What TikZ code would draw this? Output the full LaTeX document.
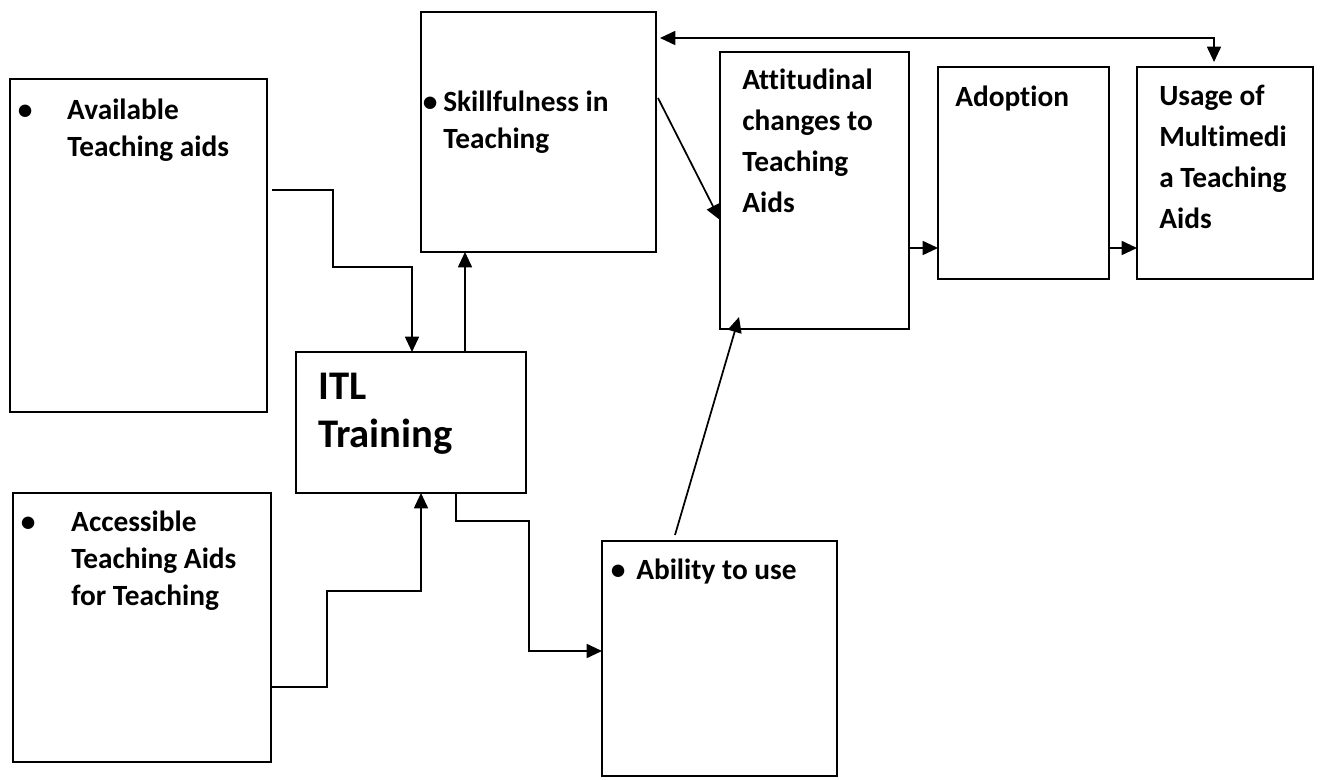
\documentclass[tikz,border=0pt]{standalone}
\usepackage{fontspec}
\setmainfont{Carlito}[Ligatures=NoCommon]
\usetikzlibrary{arrows.meta,fit}
\begin{document}
\begin{tikzpicture}[x=0.75pt,y=-0.75pt,
  box/.style={draw, line width=1.4pt, rectangle, inner sep=0pt, outer sep=0pt},
  % multi-line texts are placed by the baseline of their last line
  txt/.style={inner sep=0pt, anchor=base west, align=left,
    font=\bfseries\fontsize{22}{27.75}\selectfont},
  wide/.style={font=\bfseries\fontsize{22}{30.75}\selectfont},
  big/.style={font=\bfseries\fontsize{30.5}{36}\selectfont},
  link/.style={line width=1.3pt},
  tip/.tip={Triangle[length=11.5pt,width=10.5pt]},
  arr/.style={link, -tip},
]
\useasboundingbox (0,0) rectangle (1322,780);

% boxes
\node[box, fit={(10,79) (267,412)}]    (avail)   {};
\node[box, fit={(13,493) (271,762)}]   (access)  {};
\node[box, fit={(296,352) (526,493)}]  (itl)     {};
\node[box, fit={(421,12) (656,252)}]   (skill)   {};
\node[box, fit={(602,541) (837,776)}]  (ability) {};
\node[box, fit={(720,52) (909,329)}]   (attit)   {};
\node[box, fit={(938,67) (1109,279)}]  (adopt)   {};
\node[box, fit={(1137,67) (1313,279)}] (usage)   {};

% box texts
\node[txt] (availT) at (67,157) {\llap{\makebox[63pt]{\textbullet}}Available\\Teaching aids};
\node[txt] (accessT) at (71,605) {\llap{\makebox[64.5pt]{\textbullet}}Accessible\\Teaching Aids\\for Teaching};
\node[txt] (skillT) at (443,149) {\llap{\makebox[19.5pt]{\textbullet}}Skillfulness in\\Teaching};
\node[txt] (abilityT) at (636,580) {\llap{\makebox[27pt]{\textbullet}}Ability to use};
\node[txt, big] (itlT) at (318,448) {ITL\\Training};
\node[txt, wide] (attitT) at (742,213) {Attitudinal\\changes to\\Teaching\\Aids};
\node[txt] (adoptT) at (955,107) {Adoption};
\node[txt, wide] (usageT) at (1159,229) {Usage of\\Multimedi\\a Teaching\\Aids};

% connectors
\draw[arr] ([shift={(5,111)}]avail.north east) -- ++(61,0) -- ++(0,77)
  -| ([shift={(116,0)}]itl.north west);
\draw[arr] ([shift={(0,194)}]access.north east) -- ++(56,0) -- ++(0,-96)
  -| ([shift={(125,0)}]itl.south west);
\draw[arr] ([shift={(169,0)}]itl.north west) -- ([shift={(169,0)}]itl.north west |- skill.south);
\draw[arr] ([shift={(160,0)}]itl.south west) -- ++(0,28) -| ++(73,130)
  -- ([shift={(0,110)}]ability.north west);
\draw[arr] ([shift={(2,86)}]skill.north east) -- ([shift={(0,168)}]attit.north west);
\draw[arr] ([shift={(73,-6)}]ability.north west) -- ([shift={(19,-12)}]attit.south west);
\draw[arr] ([shift={(0,196)}]attit.north east) -- ([shift={(0,181)}]adopt.north west);
\draw[arr] ([shift={(0,181)}]adopt.north east) -- ([shift={(0,181)}]usage.north west);
\draw[link, tip-tip] ([shift={(4,26)}]skill.north east) -| ([shift={(77,-5)}]usage.north west);
\end{tikzpicture}
\end{document}
